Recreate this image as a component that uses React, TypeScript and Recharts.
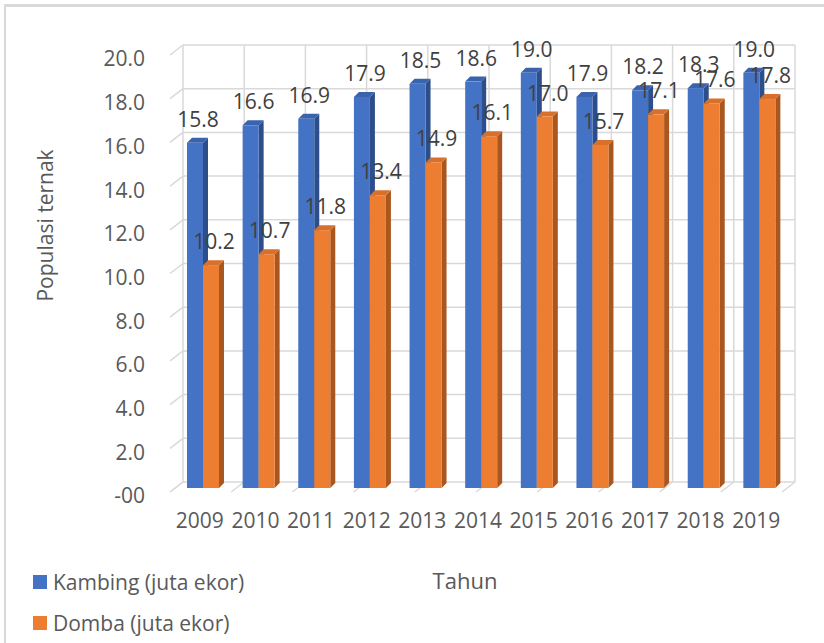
import React from 'react';
import {
  BarChart,
  Bar,
  XAxis,
  YAxis,
  CartesianGrid,
  Legend,
  LabelList,
} from 'recharts';

const years = ['2009', '2010', '2011', '2012', '2013', '2014', '2015', '2016', '2017', '2018', '2019'];
const kambing = [15.8, 16.6, 16.9, 17.9, 18.5, 18.6, 19.0, 17.9, 18.2, 18.3, 19.0];
const domba = [10.2, 10.7, 11.8, 13.4, 14.9, 16.1, 17.0, 15.7, 17.1, 17.6, 17.8];
const yTicks = [0, 2, 4, 6, 8, 10, 12, 14, 16, 18, 20];
const seriesNames = ['Kambing (juta ekor)', 'Domba (juta ekor)'];

const data = years.map((year, i) => ({ year, kambing: kambing[i], domba: domba[i] }));
const gridTicks = [...years.map((_, i) => i), years.length];

const FONT = '"Open Sans", "Noto Sans", sans-serif';
const AXIS_COLOR = '#595959';
const GRID_COLOR = '#d9d9d9';

// pseudo-3D offsets
const WALL_DX = 13;
const WALL_DY = -10;
const BAR_DX = 5;
const BAR_DY = -4;
const DEPTH_DX = 5;
const DEPTH_DY = -5;

const makeBarShape = (front: string, side: string, top: string) => (props: any) => {
  const { x, y, width, height } = props;
  if (height == null || height <= 0) return <g />;
  const fx = x + BAR_DX;
  const fy = y + BAR_DY;
  return (
    <g>
      <polygon
        points={`${fx + width},${fy} ${fx + width + DEPTH_DX},${fy + DEPTH_DY} ${fx + width + DEPTH_DX},${fy + height + DEPTH_DY} ${fx + width},${fy + height}`}
        fill={side}
      />
      <polygon
        points={`${fx},${fy} ${fx + DEPTH_DX},${fy + DEPTH_DY} ${fx + width + DEPTH_DX},${fy + DEPTH_DY} ${fx + width},${fy}`}
        fill={top}
      />
      <rect x={fx} y={fy} width={width} height={height} fill={front} />
    </g>
  );
};

const HorizontalLine = (props: any) => {
  const { x1, x2, y1, index } = props;
  return (
    <g key={`h-${index}`}>
      <line x1={x1 + WALL_DX} y1={y1 + WALL_DY} x2={x2 + WALL_DX} y2={y1 + WALL_DY} stroke={GRID_COLOR} strokeWidth={1.5} />
      <line x1={x1} y1={y1} x2={x1 + WALL_DX} y2={y1 + WALL_DY} stroke={GRID_COLOR} strokeWidth={1.5} />
    </g>
  );
};

const VerticalLine = (props: any) => {
  const { x1, y1, y2, index } = props;
  return (
    <g key={`v-${index}`}>
      <line x1={x1 + WALL_DX} y1={y1 + WALL_DY} x2={x1 + WALL_DX} y2={y2 + WALL_DY} stroke={GRID_COLOR} strokeWidth={1.5} />
      <line x1={x1} y1={y2} x2={x1 + WALL_DX} y2={y2 + WALL_DY} stroke={GRID_COLOR} strokeWidth={1.5} />
    </g>
  );
};

const renderValueLabel = (props: any) => {
  const { x, y, width, value } = props;
  return (
    <text
      x={x + width / 2 + BAR_DX + 3}
      y={y + BAR_DY - 16}
      textAnchor="middle"
      fill="#404040"
      fontSize={21}
      fontFamily={FONT}
    >
      {Number(value).toFixed(1)}
    </text>
  );
};

const renderYTitle = (props: any) => {
  const { viewBox } = props;
  const cx = viewBox.x - 57;
  const cy = viewBox.y + viewBox.height / 2 - 48;
  return (
    <text
      x={cx}
      y={cy}
      transform={`rotate(-90, ${cx}, ${cy})`}
      textAnchor="middle"
      fill={AXIS_COLOR}
      fontSize={21}
      fontFamily={FONT}
    >
      Populasi ternak
    </text>
  );
};

const renderLegend = (props: any) => {
  const items = [...(props.payload || [])].sort(
    (a: any, b: any) => seriesNames.indexOf(a.value) - seriesNames.indexOf(b.value)
  );
  return (
    <div style={{ fontFamily: FONT, fontSize: 21, color: AXIS_COLOR }}>
      {items.map((entry: any) => (
        <div key={entry.value} style={{ display: 'flex', alignItems: 'center', height: 41 }}>
          <span style={{ width: 14, height: 14, background: entry.color, marginRight: 6, display: 'inline-block' }} />
          <span>{entry.value}</span>
        </div>
      ))}
    </div>
  );
};

const formatY = (v: number) => (v === 0 ? '-00' : v.toFixed(1));

export default function App() {
  return (
    <div style={{ position: 'absolute', left: 0, top: 0, width: 824, height: 643, background: '#fff', overflow: 'hidden' }}>
      <div
        style={{
          position: 'absolute',
          left: 4,
          top: 4,
          width: 820,
          height: 639,
          borderTop: `3px solid ${GRID_COLOR}`,
          borderLeft: `2px solid ${GRID_COLOR}`,
          boxSizing: 'border-box',
        }}
      />
      <div style={{ position: 'absolute', left: 0, top: 0 }}>
        <BarChart
          width={824}
          height={643}
          data={data}
          margin={{ top: 55, right: 42, left: 110, bottom: 111 }}
          barSize={16}
          barGap={0}
        >
          <XAxis xAxisId="grid" type="number" domain={[0, years.length]} ticks={gridTicks} hide />
          <CartesianGrid
            xAxisId="grid"
            horizontal={HorizontalLine}
            vertical={VerticalLine}
          />
          <XAxis
            dataKey="year"
            height={40}
            tickLine={false}
            axisLine={false}
            tickSize={0}
            tickMargin={21}
            tick={{ fill: AXIS_COLOR, fontSize: 21, fontFamily: FONT, dx: 2 }}
            interval={0}
            label={{
              value: 'Tahun',
              position: 'bottom',
              offset: 41,
              dx: -11,
              fill: AXIS_COLOR,
              fontSize: 22,
              fontFamily: FONT,
            }}
          />
          <YAxis
            width={60}
            domain={[0, 20]}
            ticks={yTicks}
            tickFormatter={formatY}
            tickLine={false}
            axisLine={false}
            tickSize={0}
            tickMargin={25}
            tick={{ fill: AXIS_COLOR, fontSize: 21, fontFamily: FONT, dy: 4 }}
            label={{ value: 'Populasi ternak', content: renderYTitle }}
          />
          <Legend
            layout="vertical"
            align="center"
            verticalAlign="middle"
            wrapperStyle={{ left: 33, top: 561, width: 320 }}
            content={renderLegend}
          />
          <Bar
            dataKey="kambing"
            name={seriesNames[0]}
            fill="#4472C4"
            shape={makeBarShape('#4472C4', '#2C4F8C', '#3A63AD')}
            isAnimationActive={false}
          >
            <LabelList dataKey="kambing" content={renderValueLabel} />
          </Bar>
          <Bar
            dataKey="domba"
            name={seriesNames[1]}
            fill="#ED7D31"
            shape={makeBarShape('#ED7D31', '#A9571F', '#D8702B')}
            isAnimationActive={false}
          >
            <LabelList dataKey="domba" content={renderValueLabel} />
          </Bar>
        </BarChart>
      </div>
    </div>
  );
}
